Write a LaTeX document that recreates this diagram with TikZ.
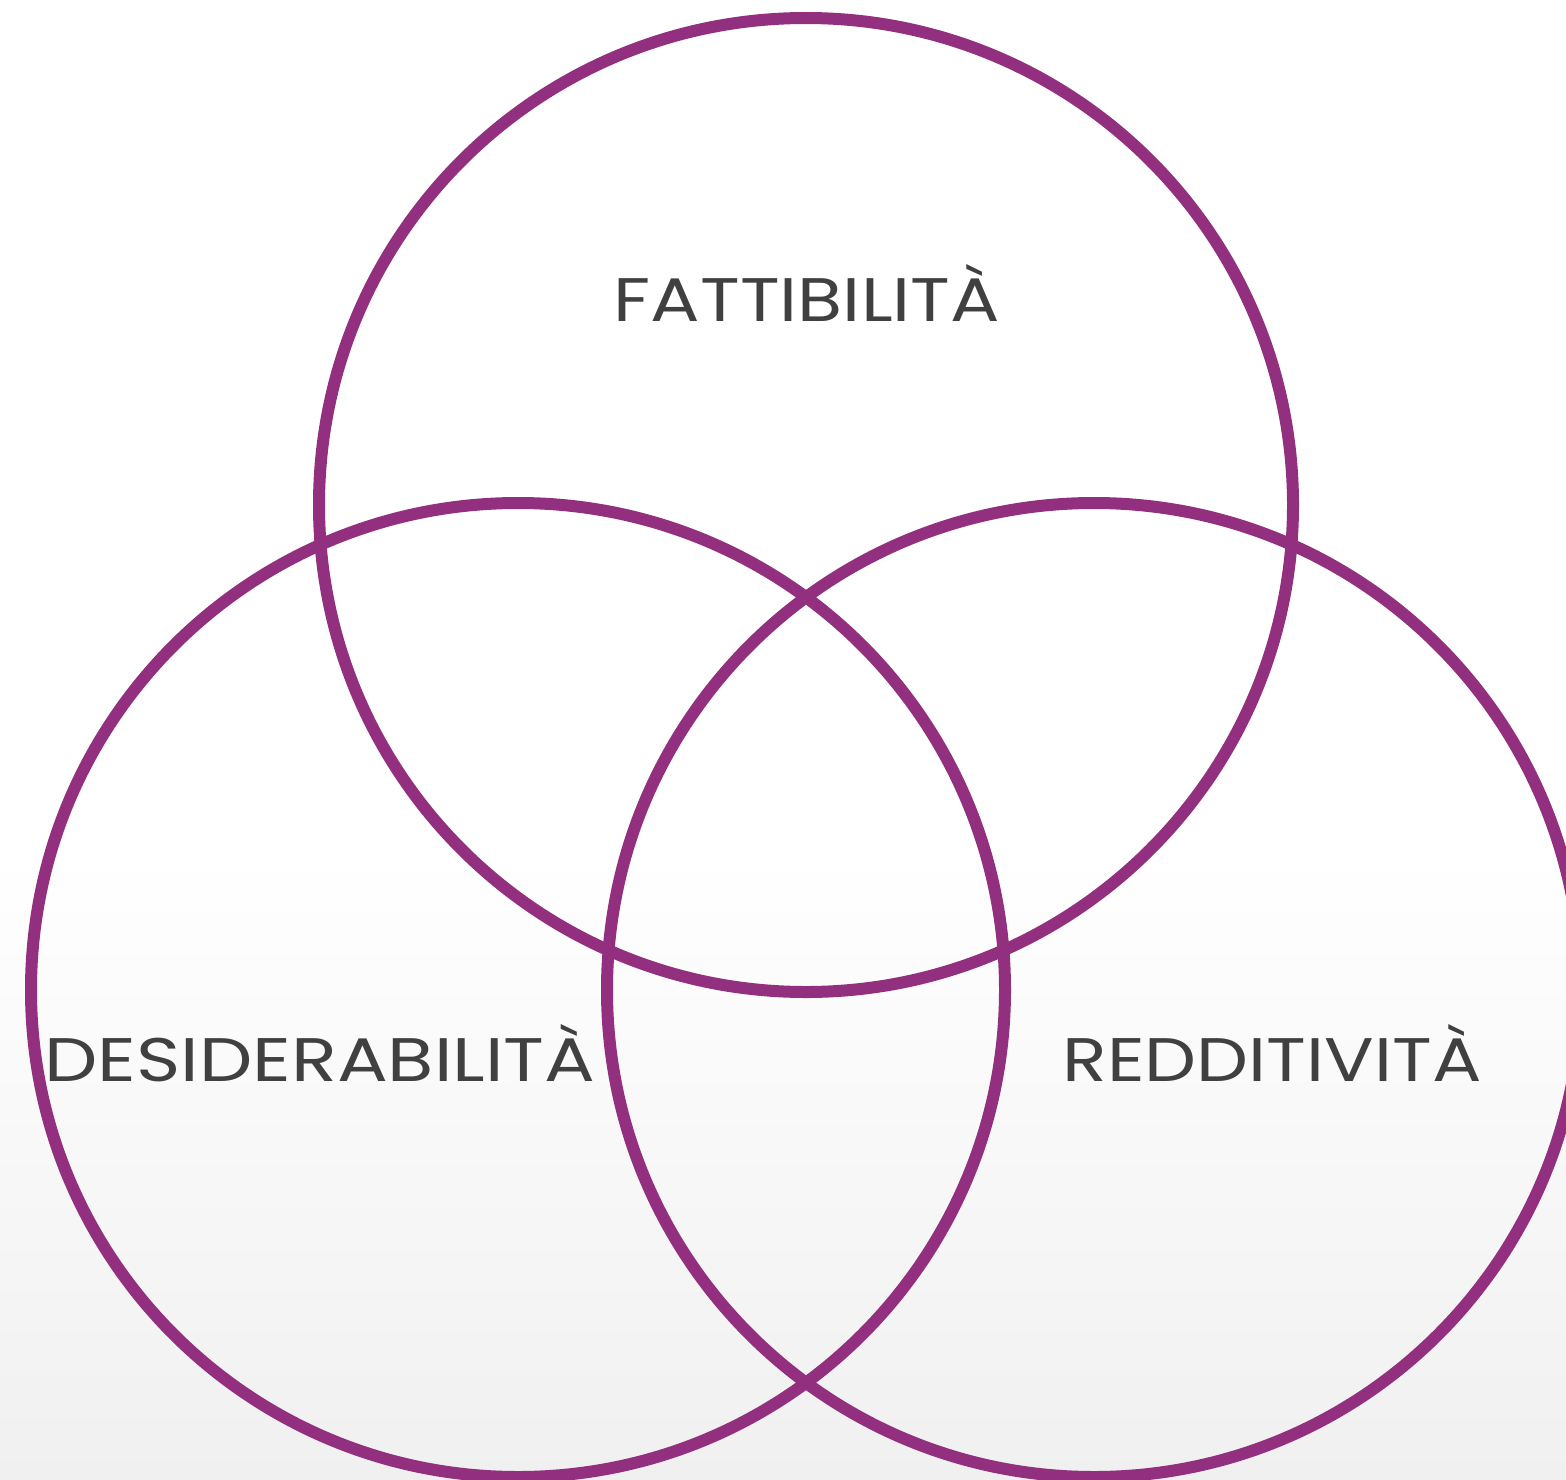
\documentclass[tikz,border=0pt]{standalone}
\usepackage{fontspec}
\setmainfont{Poppins}
\usetikzlibrary{shapes.geometric}
\definecolor{vennpurple}{HTML}{92307F}
\definecolor{labelgray}{HTML}{404040}
\definecolor{bggray}{HTML}{F0F0F0}
\tikzset{
  venn/.style={circle, draw=vennpurple, line width=12pt, minimum size=974pt, inner sep=0pt},
  vlabel/.style={anchor=base, text=labelgray, font=\fontsize{62}{62}\selectfont, inner sep=0pt}
}
\begin{document}
\begin{tikzpicture}[x=1pt,y=-1pt]
\useasboundingbox (0,0) rectangle (1566,1480);
\fill[white] (0,0) rectangle (1566,850);
\shade[top color=white, bottom color=bggray] (0,850) rectangle (1566,1480);
\begin{scope}
\clip (0,0) rectangle (1566,1480);
\node[venn] (top) at (806,505) {};
\node[venn] (left) at (518,990) {};
\node[venn] (right) at (1094,990) {};
\end{scope}
\node[vlabel] (fatt) at (807,321) {\resizebox{386pt}{57pt}{FATTIBILITÀ}};
\node[vlabel] (desid) at (320,1081) {\resizebox{551pt}{57pt}{DESIDERABILITÀ}};
\node[vlabel] (reddi) at (1272,1081) {\resizebox{419pt}{57pt}{REDDITIVITÀ}};
\end{tikzpicture}
\end{document}
